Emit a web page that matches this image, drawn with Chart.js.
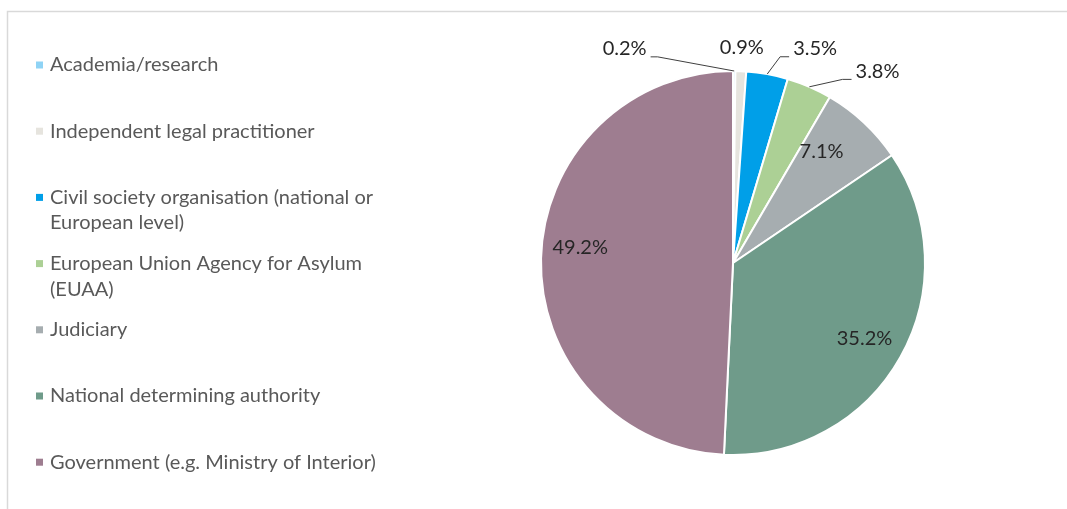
<!DOCTYPE html>
<html>
<head>
<meta charset="utf-8">
<script src="https://cdn.jsdelivr.net/npm/chart.js@4/dist/chart.umd.min.js"></script>
<style>
  html, body { margin: 0; padding: 0; background: #ffffff; }
  #wrap { position: relative; width: 1067px; height: 509px; }
</style>
</head>
<body>
<div id="wrap"><canvas id="c"></canvas></div>
<script>
// Respondent profiles, share of answers (%)
const categories = [
  'Academia/research',
  'Independent legal practitioner',
  'Civil society organisation (national or European level)',
  'European Union Agency for Asylum (EUAA)',
  'Judiciary',
  'National determining authority',
  'Government (e.g. Ministry of Interior)'
];
const shares = [0.2, 0.9, 3.5, 3.8, 7.1, 35.2, 49.2];
const sliceColors = ['#8fd3f5', '#e6e4de', '#009fe8', '#acd095', '#a6adb0', '#6f9b8a', '#9e7d90'];
const valueLabels = shares.map(v => v.toFixed(1) + '%');

// Where each value label sits: angle shift (deg) from the slice middle and
// distance as a multiple of the radius; "leader" draws a connector line.
const labelPlacement = [
  { shift: -27.2, dist: 1.25,  leader: 'left' },
  { shift: 0.0,   dist: 1.125, leader: null },
  { shift: 10.7,  dist: 1.195, leader: 'right' },
  { shift: 13.6,  dist: 1.25,  leader: 'right' },
  { shift: -4.5,  dist: 0.74,  leader: null },
  { shift: 0.6,   dist: 0.79,  leader: null },
  { shift: 4.6,   dist: 0.80,  leader: null }
];

const FONT = '"Lato", "Liberation Sans", sans-serif';

const framePlugin = {
  id: 'frame',
  beforeDraw(chart) {
    const ctx = chart.ctx;
    ctx.save();
    ctx.fillStyle = '#ffffff';
    ctx.fillRect(0, 0, chart.width, chart.height);
    ctx.strokeStyle = '#d9d9d9';
    ctx.lineWidth = 1.5;
    ctx.strokeRect(7.5, 11.5, 1200, 700);
    ctx.restore();
  }
};

function wrapText(ctx, text, maxWidth) {
  const words = text.split(' ');
  const lines = [];
  let cur = '';
  for (const w of words) {
    const test = cur ? cur + ' ' + w : w;
    if (ctx.measureText(test).width > maxWidth && cur) {
      lines.push(cur);
      cur = w;
    } else {
      cur = test;
    }
  }
  if (cur) lines.push(cur);
  return lines;
}

const sideLegendPlugin = {
  id: 'sideLegend',
  afterDraw(chart) {
    const ctx = chart.ctx;
    ctx.save();
    ctx.font = '20px ' + FONT;
    ctx.textBaseline = 'middle';
    ctx.textAlign = 'left';
    categories.forEach((name, i) => {
      const y0 = 65 + i * 66.2;
      ctx.fillStyle = sliceColors[i];
      ctx.fillRect(36, y0 - 3.5, 7, 7);
      ctx.fillStyle = '#595959';
      wrapText(ctx, name, 335).forEach((line, k) => {
        ctx.fillText(line, 50, y0 + k * 25.5);
      });
    });
    ctx.restore();
  }
};

const valueLabelPlugin = {
  id: 'valueLabels',
  afterDatasetsDraw(chart) {
    const ctx = chart.ctx;
    const meta = chart.getDatasetMeta(0);
    ctx.save();
    ctx.font = '20px ' + FONT;
    ctx.textBaseline = 'middle';
    ctx.textAlign = 'center';
    meta.data.forEach((arc, i) => {
      const p = arc.getProps(['x', 'y', 'startAngle', 'endAngle', 'outerRadius'], true);
      const mid = (p.startAngle + p.endAngle) / 2;
      const place = labelPlacement[i];
      const a = mid + place.shift * Math.PI / 180;
      const tx = p.x + Math.cos(a) * p.outerRadius * place.dist;
      const ty = p.y + Math.sin(a) * p.outerRadius * place.dist;
      const text = valueLabels[i];
      const tw = ctx.measureText(text).width;
      if (place.leader) {
        const ax = p.x + Math.cos(mid) * p.outerRadius;
        const ay = p.y + Math.sin(mid) * p.outerRadius;
        const ly = ty + 8;
        let sx, ex;
        if (place.leader === 'left') {
          sx = tx + tw / 2 + 4;
          ex = sx + 7;
        } else {
          sx = tx - tw / 2 - 4;
          ex = sx - 9;
        }
        ctx.strokeStyle = '#404040';
        ctx.lineWidth = 1;
        ctx.beginPath();
        ctx.moveTo(sx, ly);
        ctx.lineTo(ex, ly);
        ctx.lineTo(ax, ay);
        ctx.stroke();
      }
      ctx.fillStyle = '#262626';
      ctx.fillText(text, tx, ty);
    });
    ctx.restore();
  }
};

new Chart(document.getElementById('c'), {
  type: 'pie',
  data: {
    labels: categories,
    datasets: [{
      data: shares,
      backgroundColor: sliceColors,
      borderColor: '#ffffff',
      borderWidth: 2
    }]
  },
  options: {
    responsive: true,
    maintainAspectRatio: false,
    animation: false,
    layout: { padding: { left: 540, right: 141, top: 70, bottom: 53 } },
    plugins: {
      legend: { display: false },
      tooltip: { enabled: false }
    }
  },
  plugins: [framePlugin, sideLegendPlugin, valueLabelPlugin]
});
</script>
</body>
</html>
